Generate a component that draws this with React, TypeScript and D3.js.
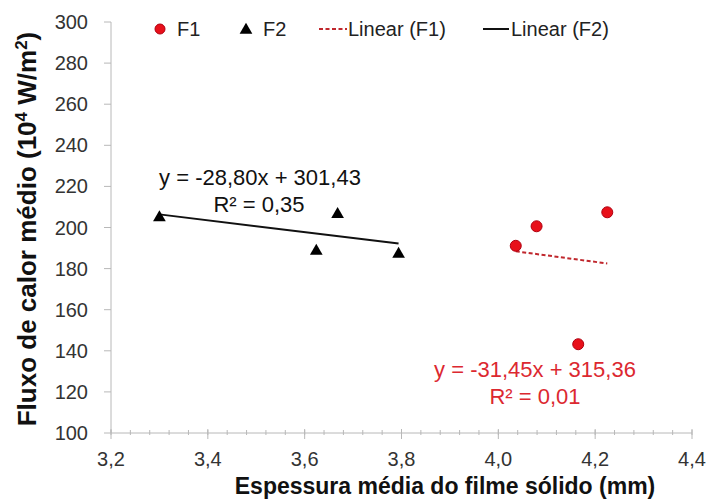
import React from "react";
import * as d3 from "d3";

// Data
const f1X = [4.036, 4.079, 4.225, 4.165];
const f1Y = [191.1, 200.6, 207.4, 143.2];
const f2X = [3.3, 3.624, 3.668, 3.794];
const f2Y = [205.3, 189.0, 206.9, 187.5];
const f1Fit = { slope: -31.45, intercept: 315.36 };
const f2Fit = { slope: -28.8, intercept: 301.43 };
const xTicks = [3.2, 3.4, 3.6, 3.8, 4.0, 4.2, 4.4];
const yTicks = [100, 120, 140, 160, 180, 200, 220, 240, 260, 280, 300];
const legendLabels = ["F1", "F2", "Linear (F1)", "Linear (F2)"];
const eqF1 = ["y = -31,45x + 315,36", "R² = 0,01"];
const eqF2 = ["y = -28,80x + 301,43", "R² = 0,35"];

const W = 707;
const H = 501;
const FONT = "'Liberation Sans', Arial, sans-serif";
const RED = "#e8101a";
const RED_STROKE = "#b00010";
const RED_TEXT = "#dc2830";
const AXIS = "#b8b8b8";

export default function App() {
  const x = d3.scaleLinear().domain([3.2, 4.4]).range([111, 692]);
  const y = d3.scaleLinear().domain([100, 300]).range([433, 22]);
  const minorX = d3.range(0, 31).map((i) => 3.2 + i * 0.04);
  const fmt = (v: number) => v.toFixed(1).replace(".", ",");

  const line = d3
    .line<[number, number]>()
    .x((d) => x(d[0]))
    .y((d) => y(d[1]));
  const fitPts = (xs: number[], fit: { slope: number; intercept: number }) => {
    const [a, b] = d3.extent(xs) as [number, number];
    return [
      [a, fit.slope * a + fit.intercept],
      [b, fit.slope * b + fit.intercept],
    ] as [number, number][];
  };
  const tri = d3.symbol().type(d3.symbolTriangle).size(70);

  return (
    <svg width={W} height={H} style={{ position: "absolute", left: 0, top: 0 }} fontFamily={FONT}>
      <rect width={W} height={H} fill="#fff" />
      {/* Y axis */}
      <line x1={x(3.2)} x2={x(3.2)} y1={y(100)} y2={y(300)} stroke={AXIS} strokeWidth={1} />
      {yTicks.map((t) => (
        <g key={"y" + t}>
          <line x1={x(3.2) - 7} x2={x(3.2)} y1={y(t)} y2={y(t)} stroke={AXIS} />
          <text x={88} y={y(t)} dy="0.35em" textAnchor="end" fontSize={20} fill="#333">
            {t}
          </text>
        </g>
      ))}
      {/* X axis */}
      <line x1={x(3.2)} x2={x(4.4)} y1={y(100)} y2={y(100)} stroke={AXIS} />
      {minorX.map((t, i) => (
        <line key={"m" + i} x1={x(t)} x2={x(t)} y1={y(100) - 3} y2={y(100) + 2} stroke={AXIS} />
      ))}
      {xTicks.map((t) => (
        <g key={"x" + t}>
          <line x1={x(t)} x2={x(t)} y1={y(100) - 4} y2={y(100) + 6} stroke={AXIS} />
          <text x={x(t)} y={466} textAnchor="middle" fontSize={20} fill="#333">
            {fmt(t)}
          </text>
        </g>
      ))}

      {/* Trendlines */}
      <path d={line(fitPts(f2X, f2Fit)) || ""} stroke="#111" strokeWidth={2} fill="none" />
      <path d={line(fitPts(f1X, f1Fit)) || ""} stroke="#c0272d" strokeWidth={2} strokeDasharray="4,2.5" fill="none" />

      {/* Points */}
      {f2X.map((v, i) => (
        <path key={"t" + i} d={tri() || ""} transform={`translate(${x(v)},${y(f2Y[i]) + 1})`} fill="#000" />
      ))}
      {f1X.map((v, i) => (
        <circle key={"c" + i} cx={x(v)} cy={y(f1Y[i])} r={5.5} fill={RED} stroke={RED_STROKE} strokeWidth={1} />
      ))}

      {/* Equations */}
      <text x={260} y={185} textAnchor="middle" fontSize={22} fill="#111">{eqF2[0]}</text>
      <text x={259} y={212} textAnchor="middle" fontSize={22} fill="#111">{eqF2[1]}</text>
      <text x={535} y={377} textAnchor="middle" fontSize={22} fill={RED_TEXT}>{eqF1[0]}</text>
      <text x={535} y={404} textAnchor="middle" fontSize={22} fill={RED_TEXT}>{eqF1[1]}</text>

      {/* Legend */}
      <g fontSize={20} fill="#222">
        <circle cx={160} cy={29} r={5} fill={RED} stroke={RED_STROKE} />
        <text x={177} y={29} dy="0.35em">{legendLabels[0]}</text>
        <path d={tri() || ""} transform="translate(246,30)" fill="#000" />
        <text x={263} y={29} dy="0.35em">{legendLabels[1]}</text>
        <line x1={319} x2={347} y1={29} y2={29} stroke="#c0272d" strokeWidth={2} strokeDasharray="4,2.5" />
        <text x={348} y={29} dy="0.35em">{legendLabels[2]}</text>
        <line x1={483} x2={509} y1={29} y2={29} stroke="#111" strokeWidth={2} />
        <text x={511} y={29} dy="0.35em">{legendLabels[3]}</text>
      </g>

      {/* Axis titles */}
      <text x={445} y={494} textAnchor="middle" fontSize={23} fontWeight="bold" fill="#111">
        Espessura média do filme sólido (mm)
      </text>
      <text
        transform="translate(36,229) rotate(-90)"
        textAnchor="middle"
        fontSize={26}
        fontWeight="bold"
        fill="#111"
      >
        Fluxo de calor médio (10<tspan dy="-9" fontSize={17}>4</tspan>
        <tspan dy="9"> W/m</tspan>
        <tspan dy="-9" fontSize={17}>2</tspan>
        <tspan dy="9">)</tspan>
      </text>
    </svg>
  );
}
